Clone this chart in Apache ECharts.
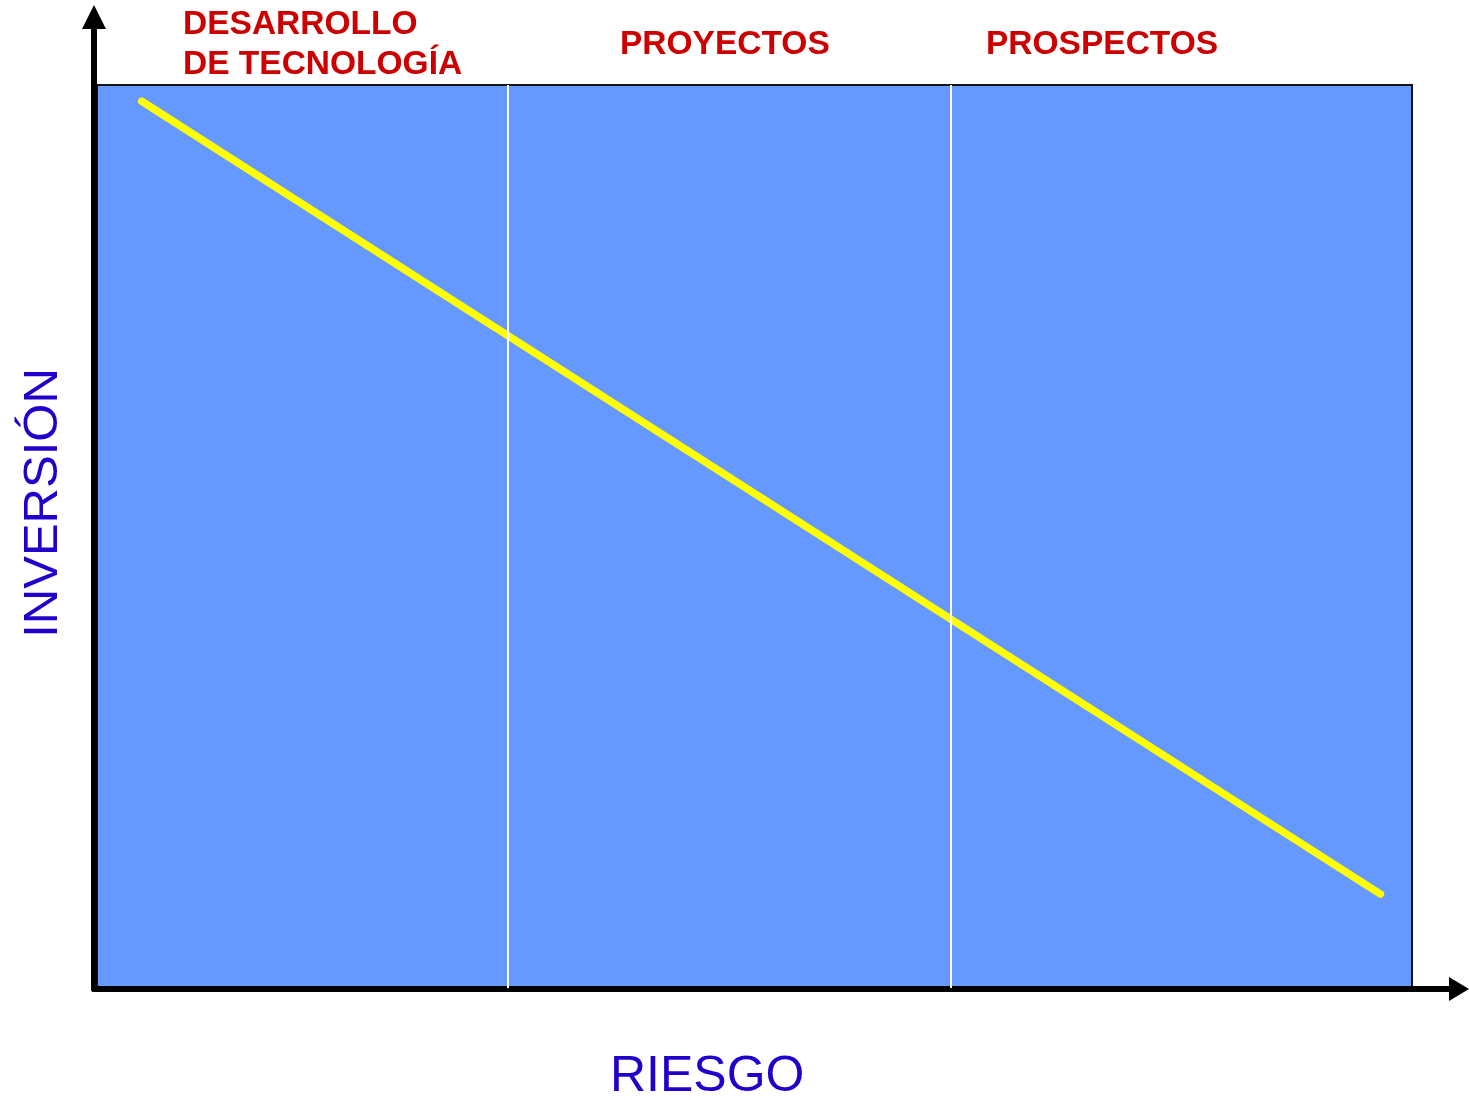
<!DOCTYPE html>
<html>
<head>
<meta charset="utf-8">
<script src="https://cdn.jsdelivr.net/npm/echarts@6/dist/echarts.min.js"></script>
<style>
  html, body { margin: 0; padding: 0; background: #fff; }
  #chart { width: 1469px; height: 1100px; }
</style>
</head>
<body>
<div id="chart"></div>
<script>
// riesgo (x) vs inversion (y), both on a 0-100 scale
var riesgo = [3.4, 97.6];
var inversion = [98.2, 10.4];
var fronteras = [31.2, 64.9];
var zonas = ['DESARROLLO\nDE TECNOLOGÍA', 'PROYECTOS', 'PROSPECTOS'];
var ejeX = 'RIESGO';
var ejeY = 'INVERSIÓN';

var chart = echarts.init(document.getElementById('chart'));

var lineData = riesgo.map(function (x, i) { return [x, inversion[i]]; });
var zoneLeft = [178, 615, 981];
var zoneTop = [0, 20, 20];

var titles = zonas.map(function (z, i) {
    return {
        text: z,
        left: zoneLeft[i],
        top: zoneTop[i],
        textStyle: {
            color: '#cc0000',
            fontFamily: 'Liberation Sans',
            fontWeight: 'bold',
            fontSize: 33.5,
            lineHeight: 40
        }
    };
});
titles.push({
    text: ejeX,
    left: 605,
    top: 1047,
    textStyle: {
        color: '#2200cc',
        fontFamily: 'Liberation Sans',
        fontWeight: 'normal',
        fontSize: 50
    }
});

var option = {
    animation: false,
    backgroundColor: '#fff',
    title: titles,
    grid: [
        {
            left: 97, top: 85, width: 1315, height: 903,
            show: true,
            backgroundColor: '#6699ff',
            borderColor: '#111',
            borderWidth: 2
        },
        {
            left: 94, top: 17, right: 10, bottom: 111
        }
    ],
    xAxis: [
        { gridIndex: 0, type: 'value', min: 0, max: 100, show: false },
        {
            gridIndex: 1, type: 'value', min: 0, max: 1,
            axisLine: {
                show: true, onZero: false,
                symbol: ['none', 'triangle'], symbolSize: [24, 20],
                lineStyle: { color: '#000', width: 6 }
            },
            axisTick: { show: false }, axisLabel: { show: false }, splitLine: { show: false }
        }
    ],
    yAxis: [
        { gridIndex: 0, type: 'value', min: 0, max: 100, show: false },
        {
            gridIndex: 1, type: 'value', min: 0, max: 1,
            name: ejeY,
            nameLocation: 'middle',
            nameRotate: 90,
            nameGap: 26,
            nameTextStyle: {
                color: '#2200cc',
                fontFamily: 'Liberation Sans',
                fontSize: 49
            },
            axisLine: {
                show: true, onZero: false,
                symbol: ['none', 'triangle'], symbolSize: [24, 24],
                lineStyle: { color: '#000', width: 6 }
            },
            axisTick: { show: false }, axisLabel: { show: false }, splitLine: { show: false }
        }
    ],
    series: [
        {
            type: 'line',
            xAxisIndex: 0,
            yAxisIndex: 0,
            data: lineData,
            showSymbol: false,
            symbol: 'none',
            lineStyle: { color: '#ffff00', width: 7.5, cap: 'round' },
            markLine: {
                silent: true,
                symbol: 'none',
                label: { show: false },
                lineStyle: { color: '#fff', width: 2, type: 'solid' },
                data: fronteras.map(function (f) { return { xAxis: f }; })
            },
            z: 3
        }
    ]
};

chart.setOption(option);
</script>
</body>
</html>
